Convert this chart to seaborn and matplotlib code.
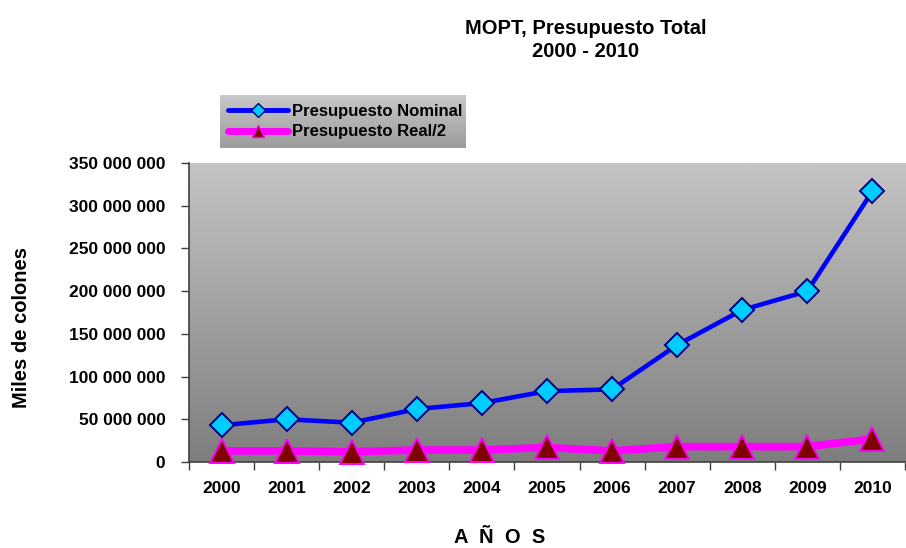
import numpy as np
import matplotlib
matplotlib.use("Agg")
import matplotlib.pyplot as plt
import seaborn as sns
from matplotlib.lines import Line2D
from matplotlib.ticker import FuncFormatter, MultipleLocator

# Data
years = [2000, 2001, 2002, 2003, 2004, 2005, 2006, 2007, 2008, 2009, 2010]
nominal = [43e6, 50e6, 46e6, 62e6, 69e6, 83e6, 85e6, 137e6, 178e6, 200e6, 317e6]
real_half = [13e6, 13e6, 12e6, 14e6, 14e6, 17e6, 13e6, 18e6, 18e6, 18e6, 27e6]
y_ticks = [0, 50e6, 100e6, 150e6, 200e6, 250e6, 300e6, 350e6]

sns.set_style("white")
plt.rcParams['font.family'] = ['Liberation Sans', 'DejaVu Sans']
plt.rcParams['font.weight'] = 'bold'
plt.rcParams['text.color'] = 'black'
plt.rcParams['xtick.color'] = 'black'
plt.rcParams['ytick.color'] = 'black'

fig = plt.figure(figsize=(9.06, 5.48), dpi=100)
ax = fig.add_axes([189 / 906, 1 - 462 / 548, 716 / 906, 299 / 548])

# gray gradient background of plot area
grad = np.linspace(0, 1, 256).reshape(-1, 1)
ax.imshow(grad, cmap=matplotlib.colors.LinearSegmentedColormap.from_list("g", ["#c4c4c4", "#7e7e7e"]),
          extent=[0, 1, 0, 1], transform=ax.transAxes, aspect="auto", zorder=0)

sns.lineplot(x=years, y=nominal, ax=ax, color="#0000ff", linewidth=3.3,
             marker="D", markersize=12.5, markerfacecolor="#00ccff",
             markeredgecolor="#000080", markeredgewidth=1.4, clip_on=False, zorder=3)
sns.lineplot(x=years, y=real_half, ax=ax, color="#ff00ff", linewidth=5.5,
             marker="^", markersize=17, markerfacecolor="#800000",
             markeredgecolor="#ff00ff", markeredgewidth=1.4, clip_on=False, zorder=3)

ax.set_xlim(1999.5, 2010.5)
ax.set_ylim(0, 350e6)
ax.set_yticks(y_ticks)
ax.yaxis.set_major_formatter(FuncFormatter(lambda v, p: f"{int(v):,}".replace(",", " ")))
ax.set_xticks(years)
ax.set_xticklabels([str(y) for y in years])
ax.xaxis.set_minor_locator(MultipleLocator(1, offset=0.5))
ax.tick_params(axis="x", which="major", length=0, pad=14, labelsize=12.5, labelcolor="black")
ax.tick_params(axis="x", which="minor", length=6, width=1, color="#404040", direction="out", bottom=True)
ax.tick_params(axis="y", which="major", length=6, width=1, color="#404040", direction="out",
               left=True, pad=11, labelsize=12.5, labelcolor="black")
for lab in ax.get_xticklabels() + ax.get_yticklabels():
    lab.set_fontweight("bold")

for s in ["top", "right"]:
    ax.spines[s].set_visible(False)
for s in ["left", "bottom"]:
    ax.spines[s].set_color("#404040")
    ax.spines[s].set_linewidth(1.2)
ax.set_xlabel("")
ax.set_ylabel("")
if ax.get_legend():
    ax.get_legend().remove()

fig.text(0.646, 0.927, "MOPT, Presupuesto Total\n2000 - 2010", ha="center", va="center",
         fontsize=14.5, fontweight="bold", linespacing=1.25, color="black")
fig.text(0.024, 0.403, "Miles de colones", rotation=90, ha="center", va="center",
         fontsize=14.5, fontweight="bold", color="black")
fig.text(0.552, 0.02, "A  Ñ  O  S", ha="center", va="center", fontsize=14.5,
         fontweight="bold", color="black")

# legend box with gradient
lax = fig.add_axes([220 / 906, 1 - 148 / 548, 246 / 906, 53 / 548])
lax.imshow(grad, cmap=matplotlib.colors.LinearSegmentedColormap.from_list("l", ["#c8c8c8", "#9c9c9c"]),
           extent=[0, 1, 0, 1], transform=lax.transAxes, aspect="auto")
lax.axis("off")
handles = [
    Line2D([], [], color="#0000ff", linewidth=3.5, marker="D", markersize=7,
           markerfacecolor="#00ccff", markeredgecolor="#000080", markeredgewidth=1),
    Line2D([], [], color="#ff00ff", linewidth=5, marker="^", markersize=9,
           markerfacecolor="#800000", markeredgecolor="#ff00ff", markeredgewidth=1),
]
leg = lax.legend(handles, ["Presupuesto Nominal", "Presupuesto Real/2"], loc="center left",
                 frameon=False, prop={"weight": "bold", "size": 12}, handlelength=3.6,
                 handletextpad=0.2, borderaxespad=0.1, labelspacing=0.35)
for t in leg.get_texts():
    t.set_color("black")

fig.savefig("out.png", dpi=100)
